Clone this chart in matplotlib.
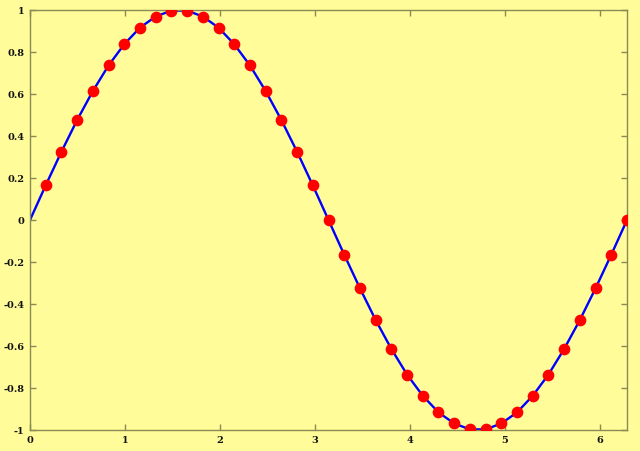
import matplotlib
matplotlib.use("Agg")
import matplotlib.pyplot as plt

# sample positions (k*pi/19, k = 0..38) and values
x_vals = [0.0, 0.1653, 0.3307, 0.4960, 0.6614, 0.8267, 0.9921, 1.1574, 1.3228,
          1.4881, 1.6535, 1.8188, 1.9842, 2.1495, 2.3149, 2.4802, 2.6456, 2.8109,
          2.9762, 3.1416, 3.3069, 3.4723, 3.6376, 3.8030, 3.9683, 4.1337, 4.2990,
          4.4644, 4.6297, 4.7951, 4.9604, 5.1258, 5.2911, 5.4565, 5.6218, 5.7872,
          5.9525, 6.1179, 6.2832]
y_vals = [0.0, 0.165, 0.325, 0.476, 0.614, 0.736, 0.837, 0.916, 0.969, 0.997,
          0.997, 0.969, 0.916, 0.837, 0.736, 0.614, 0.476, 0.325, 0.165, 0.0,
          -0.165, -0.325, -0.476, -0.614, -0.736, -0.837, -0.916, -0.969, -0.997,
          -0.997, -0.969, -0.916, -0.837, -0.736, -0.614, -0.476, -0.325, -0.165, 0.0]
x_ticks = [0, 1, 2, 3, 4, 5, 6]
y_ticks = [-1, -0.8, -0.6, -0.4, -0.2, 0, 0.2, 0.4, 0.6, 0.8, 1]
y_labels = ["-1", "-0.8", "-0.6", "-0.4", "-0.2", "0", "0.2", "0.4", "0.6", "0.8", "1"]

bg = "#FFFC99"
axc = "#8A8A55"

fig = plt.figure(figsize=(6.4, 4.51), dpi=100, facecolor=bg)
ax = fig.add_axes([30/640, 21/451, 597/640, 420/451])
ax.set_facecolor(bg)
ax.plot(x_vals, y_vals, color="#0000FF", lw=1.7, zorder=2)
ax.plot(x_vals[1:], y_vals[1:], ls="none", marker="o", ms=7.4,
        color="#FF0000", mec="#FF0000", zorder=3)
ax.set_xlim(0, 6.2832)
ax.set_ylim(-1, 1)
ax.set_xticks(x_ticks)
ax.set_xticklabels([str(t) for t in x_ticks])
ax.set_yticks(y_ticks)
ax.set_yticklabels(y_labels)
for s in ax.spines.values():
    s.set_color(axc)
    s.set_linewidth(1)
ax.tick_params(direction="in", length=4, width=1, color=axc, labelsize=7,
               top=True, right=True, pad=4)
for lab in ax.get_xticklabels() + ax.get_yticklabels():
    lab.set_family("DejaVu Serif")
    lab.set_fontweight("bold")
    lab.set_color("#111111")
fig.savefig("out.png", dpi=100, facecolor=bg)
